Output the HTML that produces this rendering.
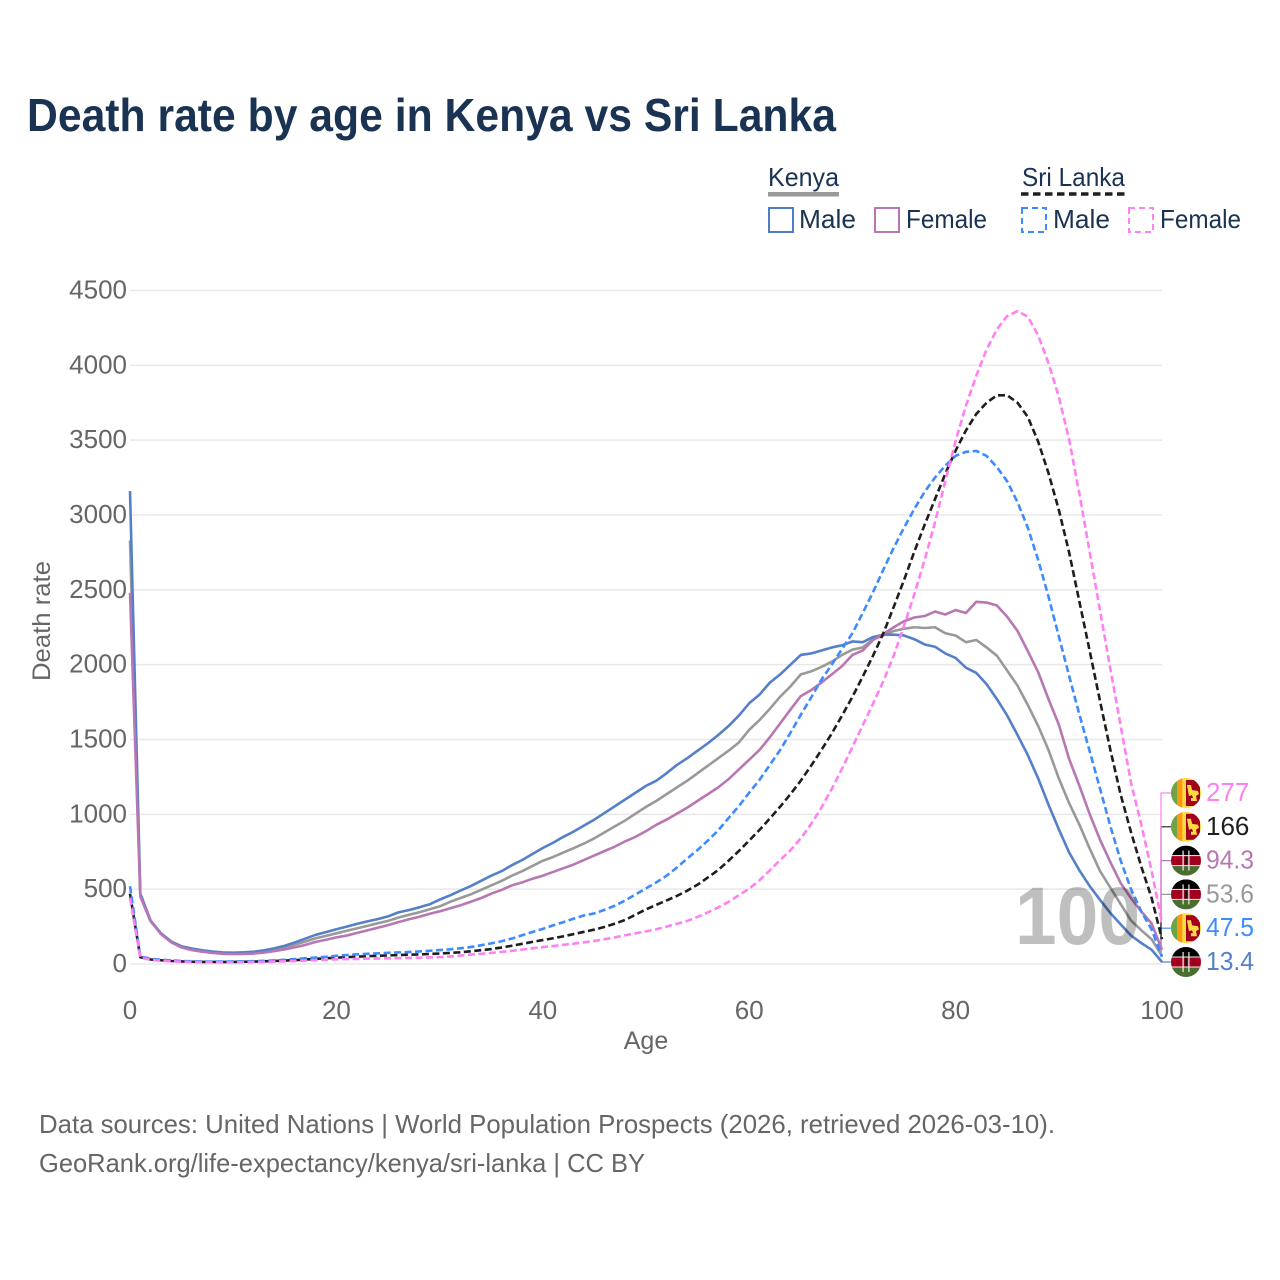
<!DOCTYPE html>
<html lang="en">
<head>
<meta charset="utf-8">
<title>Death rate by age in Kenya vs Sri Lanka</title>
<style>
html,body{margin:0;padding:0;background:#fff}
svg{display:block;font-family:"Liberation Sans",Arial,sans-serif}
</style>
</head>
<body>
<svg id="chart" xmlns="http://www.w3.org/2000/svg" width="1280" height="1280" viewBox="0 0 1280 1280">
  <rect x="0" y="0" width="1280" height="1280" fill="#fff"/>
  <text x="27" y="131" font-size="46" font-weight="700" fill="#1a3353" textLength="809" lengthAdjust="spacingAndGlyphs">Death rate by age in Kenya vs Sri Lanka</text>

  <g font-size="26" fill="#1a3353">
    <text x="768" y="186" textLength="71" lengthAdjust="spacingAndGlyphs">Kenya</text>
    <rect x="768" y="192" width="71" height="4.5" fill="#999"/>
    <text x="1022" y="186" textLength="103" lengthAdjust="spacingAndGlyphs">Sri Lanka</text>
    <line x1="1021" y1="194" x2="1125" y2="194" stroke="#1e1e1e" stroke-width="3.5" stroke-dasharray="7.5,4.5"/>
    <rect x="769" y="208" width="24" height="24" fill="none" stroke="#4f7cc7" stroke-width="2"/>
    <text x="799" y="228" textLength="57" lengthAdjust="spacingAndGlyphs">Male</text>
    <rect x="875" y="208" width="24" height="24" fill="none" stroke="#b877b3" stroke-width="2"/>
    <text x="906" y="228" textLength="81" lengthAdjust="spacingAndGlyphs">Female</text>
    <rect x="1022" y="208" width="24" height="24" fill="none" stroke="#3d8bff" stroke-width="2" stroke-dasharray="6,4"/>
    <text x="1053" y="228" textLength="57" lengthAdjust="spacingAndGlyphs">Male</text>
    <rect x="1129" y="208" width="24" height="24" fill="none" stroke="#ff80f0" stroke-width="2" stroke-dasharray="6,4"/>
    <text x="1160" y="228" textLength="81" lengthAdjust="spacingAndGlyphs">Female</text>
  </g>

  <g id="grid"></g>
  <g id="yticks" font-size="26" fill="#666" text-anchor="end"></g>
  <g id="xticks" font-size="26" fill="#666" text-anchor="middle"></g>
  <text x="646" y="1049" font-size="25" fill="#666" text-anchor="middle">Age</text>
  <text transform="translate(50,621) rotate(-90)" font-size="25" fill="#666" text-anchor="middle" textLength="120" lengthAdjust="spacingAndGlyphs">Death rate</text>

  <g id="leaders"></g>
  <g id="lines"></g>
  <text x="1015" y="944" font-size="82" font-weight="700" fill="#000" fill-opacity="0.25" textLength="125" lengthAdjust="spacingAndGlyphs">100</text>
  <g id="endlabels" font-size="26"></g>

  <g font-size="26" fill="#666">
    <text x="39" y="1133" textLength="1016" lengthAdjust="spacingAndGlyphs">Data sources: United Nations | World Population Prospects (2026, retrieved 2026-03-10).</text>
    <text x="39" y="1172" textLength="606" lengthAdjust="spacingAndGlyphs">GeoRank.org/life-expectancy/kenya/sri-lanka | CC BY</text>
  </g>
</svg>
<script>
var ages = [0,1,2,3,4,5,6,7,8,9,10,11,12,13,14,15,16,17,18,19,20,21,22,23,24,25,26,27,28,29,30,31,32,33,34,35,36,37,38,39,40,41,42,43,44,45,46,47,48,49,50,51,52,53,54,55,56,57,58,59,60,61,62,63,64,65,66,67,68,69,70,71,72,73,74,75,76,77,78,79,80,81,82,83,84,85,86,87,88,89,90,91,92,93,94,95,96,97,98,99,100];
var yTickValues = [0,500,1000,1500,2000,2500,3000,3500,4000,4500];
var xTickValues = [0,20,40,60,80,100];
var kenyaTotal = [2830,460,285,205,150,115,100,88,80,74,73,74,78,85,97,110,130,150,172,188,205,222,238,255,272,288,310,328,345,365,385,415,440,465,495,525,555,590,620,655,690,715,745,775,805,840,880,920,960,1005,1050,1090,1135,1180,1225,1275,1325,1375,1425,1480,1565,1630,1705,1786,1855,1935,1955,1985,2020,2065,2100,2115,2170,2195,2225,2240,2250,2245,2250,2210,2195,2150,2165,2115,2060,1960,1860,1730,1590,1430,1240,1075,930,770,620,510,400,290,225,165,53.6];
var kenyaMale = [3160,470,290,205,150,118,103,92,83,77,76,78,82,92,105,122,145,170,195,213,232,250,268,285,300,318,345,360,378,398,430,458,490,520,555,590,620,660,695,735,775,810,850,885,925,965,1010,1055,1100,1145,1190,1225,1275,1330,1375,1425,1475,1530,1590,1660,1742,1800,1880,1935,2000,2065,2075,2095,2115,2130,2155,2150,2185,2200,2200,2195,2170,2135,2120,2075,2045,1980,1945,1870,1770,1660,1530,1395,1240,1065,900,745,625,520,428,340,265,190,140,95,13.4];
var kenyaFemale = [2480,450,285,200,145,110,93,82,74,68,66,67,70,76,86,98,112,128,148,162,178,190,208,225,242,260,280,298,315,335,352,372,392,415,440,470,495,525,545,570,590,615,640,665,695,725,755,785,820,850,888,930,965,1005,1045,1090,1135,1180,1235,1300,1365,1430,1515,1608,1700,1790,1830,1880,1935,1990,2065,2095,2165,2205,2250,2290,2315,2325,2355,2335,2365,2345,2420,2415,2395,2320,2225,2090,1950,1770,1600,1370,1190,1000,830,680,540,440,350,270,94.3];
var sriLankaTotal = [470,45,30,25,20,17,15,14,14,14,14,15,16,18,20,23,26,30,34,38,42,46,49,52,55,57,60,62,64,67,70,74,78,85,92,100,110,122,135,148,160,172,185,200,215,230,248,270,295,330,365,395,425,455,490,530,578,628,690,755,825,896,972,1051,1135,1225,1325,1430,1540,1660,1785,1920,2060,2210,2385,2565,2755,2935,3105,3275,3430,3565,3675,3750,3800,3800,3750,3655,3490,3280,3035,2750,2420,2090,1755,1430,1130,880,650,440,166];
var sriLankaMale = [520,50,35,28,24,20,18,17,16,16,17,18,19,21,24,28,33,38,43,48,55,60,65,68,71,75,77,80,84,88,93,98,105,113,125,138,152,170,192,214,235,258,280,303,325,338,362,390,425,465,505,545,590,645,705,762,825,893,975,1055,1145,1230,1330,1430,1545,1665,1780,1900,2000,2105,2210,2345,2485,2635,2780,2915,3040,3155,3250,3330,3395,3422,3428,3395,3320,3225,3085,2915,2700,2455,2190,1925,1665,1420,1170,920,690,500,350,230,47.5];
var sriLankaFemale = [440,42,28,22,18,15,13,12,12,11,11,12,13,14,16,18,20,23,26,28,31,33,34,36,37,38,39,41,42,44,46,50,56,63,68,74,81,88,96,105,113,120,128,136,145,154,166,178,192,205,218,232,250,268,288,315,345,378,415,460,503,560,625,695,760,840,935,1045,1170,1305,1450,1595,1740,1890,2060,2260,2470,2700,2950,3225,3495,3730,3930,4105,4240,4330,4362,4325,4200,4015,3790,3505,3140,2750,2360,1970,1590,1210,930,620,277];

var NS = 'http://www.w3.org/2000/svg';
function xScale(a){ return 130 + (a - 0) * (1162 - 130) / 100; }
function yScale(v){ return 964 - v * (964 - 290.5) / 4500; }
function mk(tag, attrs, parent){
  var el = document.createElementNS(NS, tag);
  for (var k in attrs) el.setAttribute(k, attrs[k]);
  if (parent) parent.appendChild(el);
  return el;
}

var series = [
  {key:'kenya-total', values:kenyaTotal, color:'#999999', dash:'', flag:'kenya'},
  {key:'kenya-male', values:kenyaMale, color:'#5580c8', dash:'', flag:'kenya'},
  {key:'kenya-female', values:kenyaFemale, color:'#b877b3', dash:'', flag:'kenya'},
  {key:'sri-lanka-total', values:sriLankaTotal, color:'#1e1e1e', dash:'7,3.5', flag:'sri-lanka'},
  {key:'sri-lanka-male', values:sriLankaMale, color:'#3d8bff', dash:'7,3.5', flag:'sri-lanka'},
  {key:'sri-lanka-female', values:sriLankaFemale, color:'#ff80f0', dash:'7,3.5', flag:'sri-lanka'}
];

var grid = document.getElementById('grid');
var yticks = document.getElementById('yticks');
var xticks = document.getElementById('xticks');
yTickValues.forEach(function(v){
  var gl = mk('line', {x1:130, x2:1162, y1:yScale(v), y2:yScale(v), stroke:'#e8e8e8', 'stroke-width':1.5}, grid);
  
  
  var t = mk('text', {x:127, y:yScale(v) + 8}, yticks);
  
  
  t.textContent = v;
});
xTickValues.forEach(function(v){
  var t = mk('text', {x:xScale(v), y:1019}, xticks);
  
  
  t.textContent = v;
});

var linesG = document.getElementById('lines');
series.forEach(function(s){
  var d = s.values.map(function(v, i){
    return (i ? 'L' : 'M') + xScale(ages[i]).toFixed(2) + ' ' + yScale(v).toFixed(2);
  }).join('');
  var p = mk('path', {d:d, fill:'none', stroke:s.color, 'stroke-width':2.6, 'stroke-linejoin':'round'}, linesG);
  if (s.dash) p.setAttribute('stroke-dasharray', s.dash);
  
  
});

function drawFlag(g, kind, cx, cy, id){
  var defs = mk('defs', {}, g);
  var cp = mk('clipPath', {id:id}, defs);
  mk('circle', {cx:cx, cy:cy, r:15}, cp);
  var f = mk('g', {'clip-path':'url(#' + id + ')'}, g);
  function r(x, y, w, h, c){ mk('rect', {x:cx + x, y:cy + y, width:w, height:h, fill:c}, f); }
  if (kind === 'kenya') {
    r(-15, -15, 30, 30, '#eeeeee');
    r(-15, -15, 30, 9.5, '#000000');
    r(-15, -4.5, 30, 9, '#a2001d');
    r(-15, 5.5, 30, 9.5, '#496e2d');
    r(-3.5, -10, 1.2, 20, '#eeeeee');
    r(2.3, -10, 1.2, 20, '#eeeeee');
    r(-1.2, -4, 2.4, 8, '#111111');
  } else {
    r(-15, -15, 30, 30, '#ffda44');
    r(-15, -15, 6.3, 30, '#6da544');
    r(-8.7, -15, 5, 30, '#ff9811');
    r(0, -13, 14, 26, '#a2001d');
    var pts = [[1,-8],[5,-8],[6,-3],[12,-2],[13,1],[10,3],[11,8],[5,8],[5,5],[7,5],[6,2],[3,3],[2,-2]];
    mk('polygon', {points:pts.map(function(q){ return (cx + q[0]) + ',' + (cy + q[1]); }).join(' '), fill:'#ffda44'}, f);
  }
}

var leaders = document.getElementById('leaders');
var endG = document.getElementById('endlabels');
var ordered = series.slice().sort(function(a, b){
  return a.values[a.values.length - 1] - b.values[b.values.length - 1];
});
ordered.forEach(function(s, i){
  var last = s.values[s.values.length - 1];
  var cy = 962 - i * 33.8;
  var pl = mk('polyline', {points:'1161,' + yScale(last).toFixed(1) + ' 1161,' + cy + ' 1172,' + cy, fill:'none', stroke:s.color, 'stroke-width':1.2}, leaders);
  
  

  var g = mk('g', {}, endG);
  
  
  drawFlag(g, s.flag, 1186, cy, 'clip-' + s.key);

  var label = last >= 100 ? String(Math.round(last)) : last.toFixed(1);
  var t = mk('text', {x:1206, y:cy + 8, fill:s.color}, endG);
  if (label.length > 3) t.setAttribute('textLength', 48);
  if (label.length > 3) t.setAttribute('lengthAdjust', 'spacingAndGlyphs');
  
  
  t.textContent = label;
});
</script>
</body>
</html>
